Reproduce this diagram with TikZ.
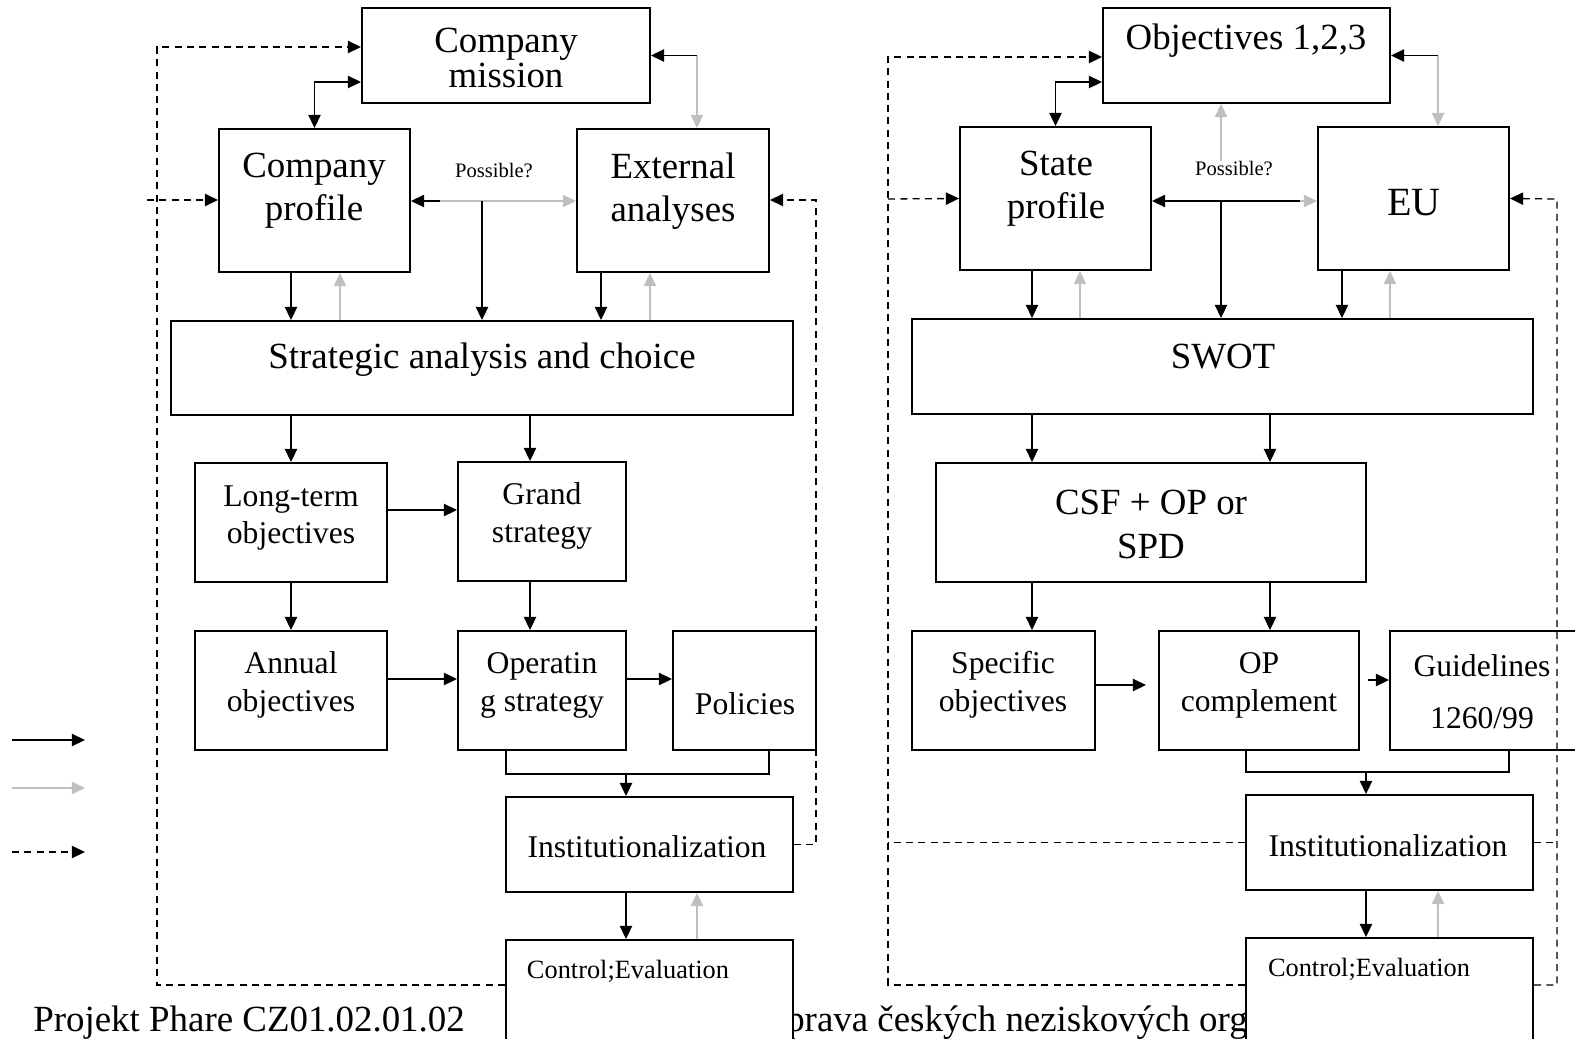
\documentclass[tikz,border=0pt]{standalone}
\usepackage{fontspec}
\setmainfont{Liberation Serif}
\usetikzlibrary{arrows.meta,fit}

\tikzset{
  box/.style={draw, line width=1.1pt, fill=white, inner sep=0pt},
  txt/.style={inner sep=0pt, align=center, yshift=-0.08cm, font=\fontsize{18}{21.6}\selectfont},
  bigtxt/.style={inner sep=0pt, align=center, yshift=-0.08cm, font=\fontsize{21}{24.5}\selectfont},
  conn/.style={line width=0.85pt},
  grey/.style={line width=0.85pt, color=black!25},
  fback/.style={line width=0.75pt, dash pattern=on 4pt off 3pt}
}

\begin{document}
\begin{tikzpicture}[x=0.02cm, y=-0.02cm, >={Triangle[length=7.5pt,width=7pt]}]
\useasboundingbox (0,0) rectangle (1575,1038);

% footer (partly under the boxes)
\node[bigtxt, anchor=base west] (foot1) at (33,1027) {Projekt Phare CZ01.02.01.02};
\node[bigtxt, anchor=base east] (foot2) at (1248,1027) {prava českých neziskových org};

% legend
\draw[conn,->] (12,740) -- (85,740);
\draw[grey,->] (12,788) -- (85,788);
\draw[fback,->] (12,852) -- (85,852);

% ---- left: company ----
\node[box, fit={(362,8) (650,103)}] (mission) {};
\node[box, fit={(219,129) (410,272)}] (cprofile) {};
\node[box, fit={(577,129) (769,272)}] (external) {};
\node[box, fit={(171,321) (793,415)}] (strategic) {};
\node[box, fit={(195,463) (387,582)}] (longterm) {};
\node[box, fit={(458,462) (626,581)}] (grand) {};
\node[box, fit={(195,631) (387,750)}] (annual) {};
\node[box, fit={(458,631) (626,750)}] (operating) {};
\node[box, fit={(673,631) (816,750)}] (policies) {};
\node[box, fit={(506,797) (793,892)}] (instL) {};
\node[box, fit={(506,940) (793,1060)}] (ctlL) {};

\node[bigtxt, font=\fontsize{21}{19.4}\selectfont] (mission-t) at (506,54) {Company\\mission};
\node[bigtxt] (cprofile-t) at (314,187) {Company\\profile};
\node[bigtxt] (external-t) at (673,187) {External\\analyses};
\node[bigtxt] (strategic-t) at (482,356) {Strategic analysis and choice};
\node[txt] (longterm-t) at (291,514) {Long-term\\objectives};
\node[txt] (grand-t) at (542,512) {Grand\\strategy};
\node[txt] (annual-t) at (291,681) {Annual\\objectives};
\node[txt] (operating-t) at (542,681) {Operatin\\g strategy};
\node[txt] (policies-t) at (745,700) {Policies};
\node[txt] (instL-t) at (647,843) {Institutionalization};
\node[txt, font=\fontsize{15}{18}\selectfont] (ctlL-t) at (628,967) {Control;Evaluation};
\node[txt, font=\fontsize{11.7}{14}\selectfont] (poss1) at (494,167) {Possible?};

\draw[conn,<->] (mission.west |- 0,82) -| (cprofile.north);
\draw[grey,->] (mission.east -| 697,0) -- (external.north -| 697,0);
\draw[conn,->] (mission.east -| 697,0) -- (mission.east);
\coordinate (pj1) at (482,201);
\coordinate (pg1) at (440,201);
\draw[conn,->] (pj1) -- (cprofile.east |- pj1);
\draw[grey,->] (pg1) -- (external.west |- pg1);
\draw[conn,->] (pj1) -- (strategic.north -| pj1);
\draw[conn,->] (cprofile.south -| 291,0) -- (strategic.north -| 291,0);
\draw[grey,->] (strategic.north -| 340,0) -- (cprofile.south -| 340,0);
\draw[conn,->] (external.south -| 601,0) -- (strategic.north -| 601,0);
\draw[grey,->] (strategic.north -| 650,0) -- (external.south -| 650,0);
\draw[conn,->] (strategic.south -| 291,0) -- (longterm.north -| 291,0);
\draw[conn,->] (strategic.south -| 530,0) -- (grand.north -| 530,0);
\draw[conn,->] (longterm.east |- 0,510) -- (grand.west |- 0,510);
\draw[conn,->] (longterm.south -| 291,0) -- (annual.north -| 291,0);
\draw[conn,->] (grand.south -| 530,0) -- (operating.north -| 530,0);
\draw[conn,->] (annual.east |- 0,679) -- (operating.west |- 0,679);
\draw[conn,->] (operating.east |- 0,679) -- (policies.west |- 0,679);
\draw[conn] (operating.south -| 506,0) -- ++(0,23) -| (policies.south -| 769,0);
\coordinate (br1) at (626,773);
\draw[conn,->] (br1) -- (instL.north -| br1);
\draw[conn,->] (instL.south -| 626,0) -- (ctlL.north -| 626,0);
\draw[grey,->] (ctlL.north -| 697,0) -- (instL.south -| 697,0);
% feedback
\draw[fback,->] (ctlL.west |- 0,985) -| (157,47) -- (mission.west |- 0,47);
\draw[fback,->] (147,200) -- (cprofile.west |- 0,200);
\draw[fback,->] (instL.east) -| (816,200) -- (external.east |- 0,200);

% ---- right: state / EU ----
\node[box, fit={(1103,8) (1390,103)}] (objectives) {};
\node[box, fit={(960,127) (1151,270)}] (state) {};
\node[box, fit={(1318,127) (1509,270)}] (eu) {};
\node[box, fit={(912,319) (1533,414)}] (swot) {};
\node[box, fit={(936,463) (1366,582)}] (csf) {};
\node[box, fit={(912,631) (1095,750)}] (specific) {};
\node[box, fit={(1159,631) (1359,750)}] (opcomp) {};
\node[box, fit={(1390,631) (1600,750)}] (guidelines) {};
\node[box, fit={(1246,795) (1533,890)}] (instR) {};
\node[box, fit={(1246,938) (1533,1060)}] (ctlR) {};

\node[bigtxt] (objectives-t) at (1246,37) {Objectives 1,2,3};
\node[bigtxt] (state-t) at (1056,185) {State\\profile};
\node[bigtxt, font=\fontsize{22.8}{26}\selectfont] (eu-t) at (1414,199) {EU};
\node[bigtxt] (swot-t) at (1223,353) {SWOT};
\node[bigtxt, font=\fontsize{21}{25}\selectfont] (csf-t) at (1151,520) {CSF + OP or\\SPD};
\node[txt] (specific-t) at (1003,681) {Specific\\objectives};
\node[txt] (opcomp-t) at (1259,681) {OP\\complement};
\node[txt, font=\fontsize{18}{29.6}\selectfont] (guidelines-t) at (1482,688) {Guidelines\\1260/99};
\node[txt] (instR-t) at (1388,842) {Institutionalization};
\node[txt, font=\fontsize{15}{18}\selectfont] (ctlR-t) at (1369,965) {Control;Evaluation};
\node[txt, font=\fontsize{11.7}{14}\selectfont] (poss2) at (1234,165) {Possible?};

\draw[conn,<->] (objectives.west |- 0,82) -| (state.north);
\draw[grey,->] (objectives.east -| 1438,0) -- (eu.north -| 1438,0);
\draw[conn,->] (objectives.east -| 1438,0) -- (objectives.east);
\coordinate (pj2) at (1221,201);
\coordinate (pg2) at (1300,201);
\draw[conn,->] (pg2) -- (state.east |- pg2);
\draw[grey,->] (pg2) -- (eu.west |- pg2);
\draw[conn,->] (pj2) -- (swot.north -| pj2);
\draw[grey,->] (poss2.north -| 1221,0) -- (objectives.south -| 1221,0);
\draw[conn,->] (state.south -| 1032,0) -- (swot.north -| 1032,0);
\draw[grey,->] (swot.north -| 1080,0) -- (state.south -| 1080,0);
\draw[conn,->] (eu.south -| 1342,0) -- (swot.north -| 1342,0);
\draw[grey,->] (swot.north -| 1390,0) -- (eu.south -| 1390,0);
\draw[conn,->] (swot.south -| 1032,0) -- (csf.north -| 1032,0);
\draw[conn,->] (swot.south -| 1270,0) -- (csf.north -| 1270,0);
\draw[conn,->] (csf.south -| 1032,0) -- (specific.north -| 1032,0);
\draw[conn,->] (csf.south -| 1270,0) -- (opcomp.north -| 1270,0);
\coordinate (sp-end) at (1146,685);
\draw[conn,->] (specific.east |- sp-end) -- (sp-end);
\coordinate (op-start) at (1368,680);
\draw[conn,->] (op-start) -- (guidelines.west |- op-start);
\draw[conn] (opcomp.south -| 1246,0) -- ++(0,21) -| (guidelines.south -| 1509,0);
\coordinate (br2) at (1366,771);
\draw[conn,->] (br2) -- (instR.north -| br2);
\draw[conn,->] (instR.south -| 1366,0) -- (ctlR.north -| 1366,0);
\draw[grey,->] (ctlR.north -| 1438,0) -- (instR.south -| 1438,0);
% feedback
\draw[fback,->] (ctlR.west |- 0,985) -| (888,57) -- (objectives.west |- 0,57);
\draw[fback] (instR.west) -- (instR.west -| 888,0);
\draw[fback,->] (888,199) -- (state.west);
\draw[fback,->] (ctlR.east |- 0,985) -| (1557,199) -- (eu.east);
\draw[fback] (instR.east) -- (instR.east -| 1557,0);
\end{tikzpicture}
\end{document}
